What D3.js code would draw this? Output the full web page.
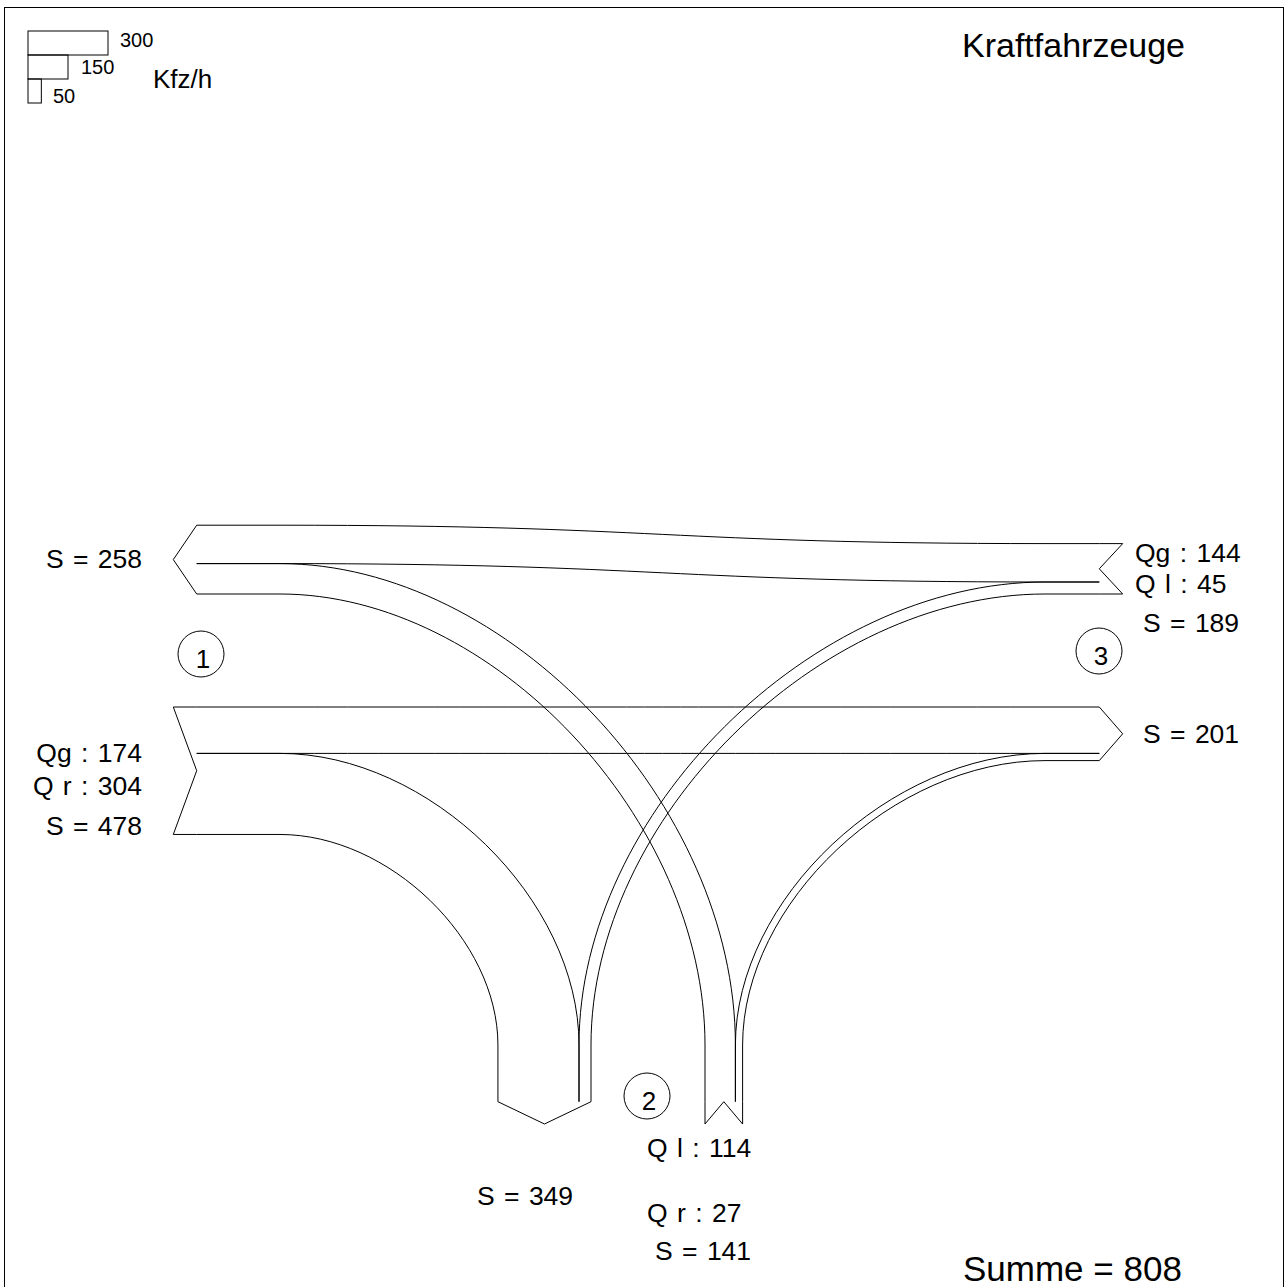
<!DOCTYPE html>
<html><head><meta charset="utf-8">
<script src="https://cdn.jsdelivr.net/npm/d3@7"></script>
<style>
html,body{margin:0;padding:0;background:#fff;}
text{font-family:"Liberation Sans",Arial,Helvetica,sans-serif;fill:#000;}
</style></head>
<body>
<svg id="c" width="1288" height="1287"></svg>
<script>
// ---- data ----
const title = "Kraftfahrzeuge";
const unitLabel = "Kfz/h";
const legendValues = [300, 150, 50];
const armIds = [1, 2, 3];
// flows: from arm -> to arm
const flowFrom  = [1, 1, 2, 2, 3, 3];
const flowTo    = [3, 2, 1, 3, 1, 2];
const flowValue = [174, 304, 114, 27, 144, 45];
const flowLabel = ["Qg", "Q r", "Q l", "Q r", "Qg", "Q l"];

const svg = d3.select("#c");
const w = d3.scaleLinear().domain([0, 300]).range([0, 80]);
const K = 0.5;

const val = (f, t) => flowValue[flowFrom.findIndex((a, i) => a === f && flowTo[i] === t)];
const lab = (f, t) => flowLabel[flowFrom.findIndex((a, i) => a === f && flowTo[i] === t)];
const outSum = a => d3.sum(flowValue.filter((v, i) => flowTo[i] === a));
const inSum = a => d3.sum(flowValue.filter((v, i) => flowFrom[i] === a));

// frame
svg.append("rect").attr("x", 4.5).attr("y", 7.5).attr("width", 1279).attr("height", 1300)
  .attr("fill", "none").attr("stroke", "#000").attr("stroke-width", 1);

// ---- geometry constants ----
const westBase = 196.7, westTip = 173.3, curveL = 280;
const eastBase = 1099.3, eastTip = 1122.7, curveR = 1045;
const southBase = 1101.7, southTip = 1124, curveB = 1045;
const topBandBottom = 594, lowBandTop = 707;
const southOutRight = 591, southInLeft = 705;

// band positions
const a1OutTop = topBandBottom - w(outSum(1));
const a1y_from3 = [a1OutTop, a1OutTop + w(val(3,1))];
const a1y_from2 = [a1y_from3[1], a1y_from3[1] + w(val(2,1))];
const a1y_to3 = [lowBandTop, lowBandTop + w(val(1,3))];
const a1y_to2 = [a1y_to3[1], a1y_to3[1] + w(val(1,2))];
const a3InTop = topBandBottom - w(inSum(3));
const a3y_to1 = [a3InTop, a3InTop + w(val(3,1))];
const a3y_to2 = [a3y_to1[1], a3y_to1[1] + w(val(3,2))];
const a3y_from1 = [lowBandTop, lowBandTop + w(val(1,3))];
const a3y_from2 = [a3y_from1[1], a3y_from1[1] + w(val(2,3))];
const a2OutLeft = southOutRight - w(outSum(2));
const a2x_from1 = [a2OutLeft, a2OutLeft + w(val(1,2))];
const a2x_from3 = [a2x_from1[1], a2x_from1[1] + w(val(3,2))];
const a2x_to1 = [southInLeft, southInLeft + w(val(2,1))];
const a2x_to3 = [a2x_to1[1], a2x_to1[1] + w(val(2,3))];

const g = svg.append("g").attr("fill", "none").attr("stroke", "#000").attr("stroke-width", 1);

function straight(yL, yR) {
  const p = d3.path();
  const mx = (curveL + curveR) / 2;
  p.moveTo(westBase, yL); p.lineTo(curveL, yL);
  p.bezierCurveTo(mx, yL, mx, yR, curveR, yR);
  p.lineTo(eastBase, yR);
  return p.toString();
}
function westSouth(y, x) {
  const p = d3.path();
  p.moveTo(westBase, y); p.lineTo(curveL, y);
  p.bezierCurveTo(curveL + K * (x - curveL), y, x, curveB - K * (curveB - y), x, curveB);
  p.lineTo(x, southBase);
  return p.toString();
}
function eastSouth(y, x) {
  const p = d3.path();
  p.moveTo(eastBase, y); p.lineTo(curveR, y);
  p.bezierCurveTo(curveR - K * (curveR - x), y, x, curveB - K * (curveB - y), x, curveB);
  p.lineTo(x, southBase);
  return p.toString();
}
const edges = [
  straight(a1y_to3[0], a3y_from1[0]), straight(a1y_to3[1], a3y_from1[1]),
  straight(a1y_from3[0], a3y_to1[0]), straight(a1y_from3[1], a3y_to1[1]),
  westSouth(a1y_to2[0], a2x_from1[1]), westSouth(a1y_to2[1], a2x_from1[0]),
  westSouth(a1y_from2[0], a2x_to1[1]), westSouth(a1y_from2[1], a2x_to1[0]),
  eastSouth(a3y_to2[0], a2x_from3[0]), eastSouth(a3y_to2[1], a2x_from3[1]),
  eastSouth(a3y_from2[0], a2x_to3[0]), eastSouth(a3y_from2[1], a2x_to3[1])
];
g.selectAll("path.edge").data(edges).join("path").attr("class", "edge").attr("d", d => d);

const line = d3.line();
// arm 1 outgoing arrow (pointing west)
g.append("path").attr("d", line([[westBase, a1y_from3[0]], [westTip, (a1y_from3[0] + a1y_from2[1]) / 2], [westBase, a1y_from2[1]]]));
// arm 1 incoming tail
g.append("path").attr("d", line([[westBase, a1y_to3[0]], [westTip, a1y_to3[0]], [westBase, (a1y_to3[0] + a1y_to2[1]) / 2], [westTip, a1y_to2[1]], [westBase, a1y_to2[1]]]));
// arm 3 outgoing arrow (pointing east)
g.append("path").attr("d", line([[eastBase, a3y_from1[0]], [eastTip, (a3y_from1[0] + a3y_from2[1]) / 2], [eastBase, a3y_from2[1]]]));
// arm 3 incoming tail
g.append("path").attr("d", line([[eastBase, a3y_to1[0]], [eastTip, a3y_to1[0]], [eastBase, (a3y_to1[0] + a3y_to2[1]) / 2], [eastTip, a3y_to2[1]], [eastBase, a3y_to2[1]]]));
// arm 2 outgoing arrow (pointing south)
g.append("path").attr("d", line([[a2x_from1[0], southBase], [(a2x_from1[0] + a2x_from3[1]) / 2, southTip], [a2x_from3[1], southBase]]));
// arm 2 incoming tail
g.append("path").attr("d", line([[a2x_to1[0], southBase], [a2x_to1[0], southTip], [(a2x_to1[0] + a2x_to3[1]) / 2, southBase], [a2x_to3[1], southTip], [a2x_to3[1], southBase]]));

// ---- labels ----
const T = (x, y, s, size, anchor, ws) => svg.append("text").attr("x", x).attr("y", y)
  .attr("font-size", size).attr("text-anchor", anchor || "start")
  .attr("word-spacing", ws || 0).text(s);
const fs = 26.5, wsp = 2;
T(142, 568, "S = " + outSum(1), fs, "end", wsp);
T(142, 762, lab(1,3) + " : " + val(1,3), fs, "end", wsp);
T(142, 795, lab(1,2) + " : " + val(1,2), fs, "end", wsp);
T(142, 835, "S = " + inSum(1), fs, "end", wsp);
T(1135, 562, lab(3,1) + " : " + val(3,1), fs, "start", wsp);
T(1135, 593, lab(3,2) + " : " + val(3,2), fs, "start", wsp);
T(1143, 632, "S = " + inSum(3), fs, "start", wsp);
T(1143, 743, "S = " + outSum(3), fs, "start", wsp);
T(647, 1157, lab(2,1) + " : " + val(2,1), fs, "start", wsp);
T(647, 1222, lab(2,3) + " : " + val(2,3), fs, "start", wsp);
T(655, 1260, "S = " + inSum(2), fs, "start", wsp);
T(477, 1205, "S = " + outSum(2), fs, "start", wsp);

// circles
const circ = [[201, 654], [647, 1096], [1099, 651]];
armIds.forEach((a, i) => {
  svg.append("circle").attr("cx", circ[i][0]).attr("cy", circ[i][1]).attr("r", 23)
    .attr("fill", "none").attr("stroke", "#000").attr("stroke-width", 1);
  T(circ[i][0] + 2, circ[i][1] + 14, String(a), 26, "middle");
});

// title & sum
T(962, 57, title, 34);
T(963, 1281, "Summe = " + d3.sum(flowValue), 35);

// legend
const legTops = [31, 55, 79];
const legLabelPos = [[120, 47], [81, 74], [53, 103]];
legendValues.forEach((v, i) => {
  svg.append("rect").attr("x", 28).attr("y", legTops[i]).attr("width", w(v)).attr("height", 24)
    .attr("fill", "none").attr("stroke", "#000").attr("stroke-width", 1);
  T(legLabelPos[i][0], legLabelPos[i][1], String(v), 20);
});
T(153, 88, unitLabel, 26);
</script>
</body></html>
